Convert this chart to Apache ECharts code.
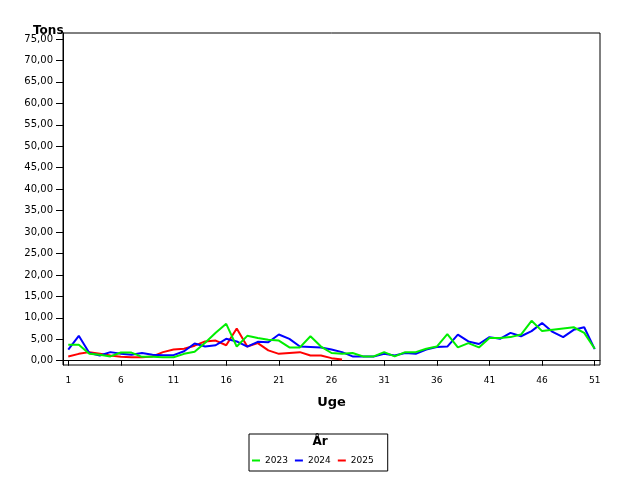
<!DOCTYPE html>
<html>
<head>
<meta charset="utf-8">
<script src="https://cdn.jsdelivr.net/npm/echarts@6.0.0/dist/echarts.min.js"></script>
<style>
    html, body { margin: 0; padding: 0; background: #fff; }
    #chart { width: 640px; height: 480px; }
</style>
</head>
<body>
<div id="chart"></div>
<script>
// uger 1..51
var weeks = [];
for (var w = 1; w <= 51; w++) { weeks.push(w); }

var xTicks = [1, 6, 11, 16, 21, 26, 31, 36, 41, 46, 51];
var yTicks = [0, 5, 10, 15, 20, 25, 30, 35, 40, 45, 50, 55, 60, 65, 70, 75];

var years = ['2023', '2024', '2025'];
var colors = ['#00ee00', '#0000ff', '#ff0000'];

var tons2023 = [3.7, 3.7, 1.6, 1.4, 1.0, 1.9, 1.9, 0.9, 0.9, 0.8,
                0.8, 1.6, 2.1, 4.2, 6.5, 8.6, 3.3, 5.8, 5.3, 4.9,
                4.7, 3.1, 3.1, 5.7, 3.3, 1.8, 1.6, 1.8, 1.0, 1.0,
                2.0, 1.0, 2.0, 2.0, 2.8, 3.3, 6.2, 3.1, 4.1, 3.1,
                5.3, 5.3, 5.5, 6.1, 9.3, 6.9, 7.2, 7.5, 7.8, 6.5,
                2.8];
var tons2024 = [2.6, 5.8, 1.8, 1.2, 2.0, 1.6, 1.4, 1.8, 1.4, 1.3,
                1.3, 2.2, 4.0, 3.3, 3.6, 5.1, 4.5, 3.3, 4.4, 4.3,
                6.1, 5.1, 3.3, 3.2, 3.1, 2.6, 2.0, 1.0, 1.0, 1.0,
                1.6, 1.2, 1.8, 1.6, 2.6, 3.2, 3.3, 6.1, 4.5, 3.9,
                5.5, 5.1, 6.5, 5.7, 6.9, 8.8, 6.7, 5.5, 7.2, 7.8,
                2.7];
var tons2025 = [1.0, 1.6, 2.0, 1.6, 1.2, 0.9, 0.8, 0.8, 1.0, 2.0,
                2.6, 2.8, 3.5, 4.5, 4.7, 3.6, 7.5, 3.3, 4.1, 2.4,
                1.6, 1.8, 2.0, 1.2, 1.2, 0.6, 0.3];

function pairs(values) {
    var out = [];
    for (var i = 0; i < values.length; i++) {
        out.push([weeks[i], values[i]]);
    }
    return out;
}

var chart = echarts.init(document.getElementById('chart'), null, { renderer: 'canvas' });

var option = {
    backgroundColor: '#fff',
    animation: false,
    textStyle: { fontFamily: 'DejaVu Sans' },
    title: [
        {
            text: 'Tons',
            left: 28, top: 20,
            textStyle: { fontSize: 12, fontWeight: 'bold', color: '#000' }
        },
        {
            text: 'År',
            left: 'center', top: 431,
            textStyle: { fontSize: 12, fontWeight: 'bold', color: '#000' }
        }
    ],
    legend: {
        data: years,
        left: 249, top: 434,
        padding: [22, 14, 6, 3],
        borderColor: '#000',
        borderWidth: 1,
        itemWidth: 8,
        itemHeight: 2,
        itemGap: 7,
        icon: 'rect',
        textStyle: { fontSize: 9, color: '#000' }
    },
    grid: {
        left: 63, top: 33, right: 40, bottom: 115,
        show: true,
        borderColor: '#000',
        borderWidth: 1
    },
    xAxis: {
        type: 'value',
        min: 0.5, max: 51.5,
        name: 'Uge',
        nameLocation: 'middle',
        nameGap: 31,
        nameTextStyle: { fontSize: 13, fontWeight: 'bold', color: '#000' },
        axisLine: { lineStyle: { color: '#000' } },
        axisTick: { customValues: xTicks, length: 5, lineStyle: { color: '#000' } },
        axisLabel: { customValues: xTicks, fontSize: 9, color: '#000', margin: 11 },
        splitLine: { show: false }
    },
    yAxis: {
        type: 'value',
        min: -1, max: 76.4,
        axisLine: { show: true, lineStyle: { color: '#000' } },
        axisTick: { show: true, customValues: yTicks, length: 7, lineStyle: { color: '#000' } },
        axisLabel: {
            customValues: yTicks, fontSize: 10, color: '#000', margin: 10,
            formatter: function (v) { return v.toFixed(2).replace('.', ','); }
        },
        splitLine: { show: false }
    },
    series: [
        {
            name: '2025', type: 'line', data: pairs(tons2025),
            showSymbol: false, color: colors[2],
            lineStyle: { width: 2 }, z: 2
        },
        {
            name: '2024', type: 'line', data: pairs(tons2024),
            showSymbol: false, color: colors[1],
            lineStyle: { width: 2 }, z: 3
        },
        {
            name: '2023', type: 'line', data: pairs(tons2023),
            showSymbol: false, color: colors[0],
            lineStyle: { width: 2 }, z: 4
        }
    ]
};

chart.setOption(option);
</script>
</body>
</html>
